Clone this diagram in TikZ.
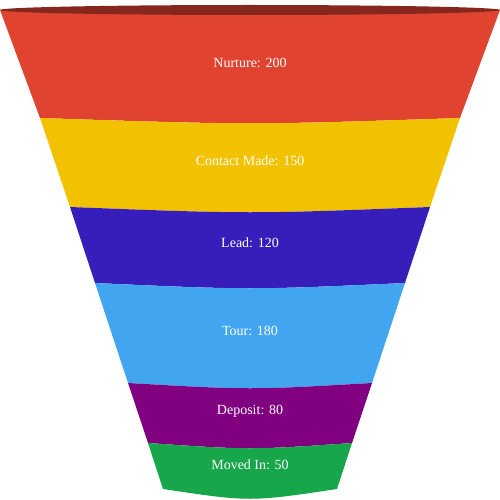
\documentclass[tikz,border=0pt]{standalone}
\usepackage{fontspec}
\setmainfont{Liberation Serif}
\usepackage{tikz}

\definecolor{nurturered}{HTML}{E04330}
\definecolor{rimred}{HTML}{86271E}
\definecolor{contactyellow}{HTML}{F2C200}
\definecolor{leadblue}{HTML}{371EBA}
\definecolor{tourblue}{HTML}{42A5F0}
\definecolor{depositpurple}{HTML}{800080}
\definecolor{movedgreen}{HTML}{17A64A}

\begin{document}
\begin{tikzpicture}[
    x=1pt, y=-1pt,
    label/.style={text=white, font=\fontsize{14}{16}\selectfont, inner sep=0pt}
]
\useasboundingbox (0,0) rectangle (500,500);

% funnel segments, top to bottom
\fill [nurturered] (0,10) -- (40,118) .. controls (250,125) .. (460,118) -- (500,10) -- cycle;
\fill [contactyellow] (40,118) -- (70,207) .. controls (250,214) .. (430,207) -- (460,118) .. controls (250,125) .. (40,118) -- cycle;
\fill [leadblue] (70,207) -- (95,283) .. controls (250,290) .. (405,283) -- (430,207) .. controls (250,214) .. (70,207) -- cycle;
\fill [tourblue] (95,283) -- (128,383) .. controls (250,390) .. (372,383) -- (405,283) .. controls (250,290) .. (95,283) -- cycle;
\fill [depositpurple] (128,383) -- (148,443) .. controls (250,450) .. (352,443) -- (372,383) .. controls (250,390) .. (128,383) -- cycle;
\fill [movedgreen] (148,443) -- (163,489) .. controls (250,502) .. (337,489) -- (352,443) .. controls (250,450) .. (148,443) -- cycle;

% rim on top
\fill [rimred] (250,10) ellipse [x radius=250, y radius=5];

\node (nurture) [label] at (250,63) {Nurture: 200};
\node (contact) [label] at (250,161) {Contact Made: 150};
\node (lead) [label] at (250,243) {Lead: 120};
\node (tour) [label] at (250,331) {Tour: 180};
\node (deposit) [label] at (250,411) {Deposit: 80};
\node (moved) [label] at (250,465) {Moved In: 50};

\end{tikzpicture}
\end{document}
